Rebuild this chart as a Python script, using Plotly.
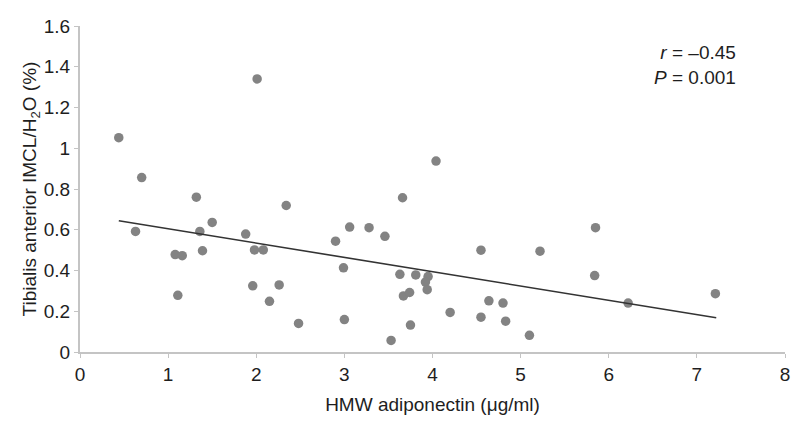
import plotly.graph_objects as go

# HMW adiponectin (ug/ml)
adiponectin = [0.44, 0.70, 0.63, 1.32, 1.50, 1.36, 1.39, 1.08, 1.16, 1.11,
               2.34, 1.88, 1.98, 2.08, 1.96, 2.26, 2.15, 2.48, 2.90, 2.01,
               2.99, 3.00, 3.06, 3.28, 3.46, 3.66, 4.04, 3.63, 3.81, 3.95,
               3.92, 3.94, 3.67, 3.74, 3.75, 3.53, 4.20, 4.55, 4.55, 4.64,
               4.80, 4.83, 5.10, 5.22, 5.85, 5.84, 6.22, 7.21]
# Tibialis anterior IMCL/H2O (%)
imcl = [1.052, 0.856, 0.592, 0.760, 0.636, 0.592, 0.497, 0.478, 0.473, 0.278,
        0.719, 0.579, 0.501, 0.501, 0.325, 0.329, 0.249, 0.140, 0.544, 1.340,
        0.413, 0.159, 0.613, 0.610, 0.568, 0.757, 0.937, 0.381, 0.378, 0.370,
        0.343, 0.306, 0.275, 0.292, 0.132, 0.057, 0.194, 0.500, 0.171, 0.251,
        0.240, 0.151, 0.082, 0.495, 0.610, 0.375, 0.240, 0.286]

# Regression line end points
fit_x = [0.44, 7.22]
fit_y = [0.644, 0.168]

x_ticks = [0, 1, 2, 3, 4, 5, 6, 7, 8]
y_ticks = [0, 0.2, 0.4, 0.6, 0.8, 1.0, 1.2, 1.4, 1.6]
y_tick_text = ["0", "0.2", "0.4", "0.6", "0.8", "1", "1.2", "1.4", "1.6"]

font_family = "Liberation Sans, Arial, Helvetica, sans-serif"
txt_color = "#1e1e1e"
fs = 19

fig = go.Figure()
fig.add_trace(go.Scatter(
    x=adiponectin, y=imcl, mode="markers",
    marker=dict(size=9.5, color="#838383", line=dict(width=0)),
    showlegend=False, hoverinfo="x+y"))
fig.add_trace(go.Scatter(
    x=fit_x, y=fit_y, mode="lines",
    line=dict(color="#333333", width=1.6),
    showlegend=False, hoverinfo="skip"))

fig.add_annotation(
    x=7.47, y=1.533, xref="x", yref="y",
    text="<i>r</i> = \u20130.45<br><i>P</i> = 0.001",
    showarrow=False, xanchor="right", yanchor="top", align="right",
    font=dict(family=font_family, size=fs, color=txt_color))

axis_common = dict(
    showgrid=False, zeroline=False,
    showline=True, linecolor="#c4c4c4", linewidth=2,
    ticks="outside", ticklen=4, tickcolor="#c4c4c4", tickwidth=1,
    tickfont=dict(family=font_family, size=fs, color=txt_color),
    ticklabeloverflow="allow",
)

fig.update_xaxes(
    range=[0, 8], tickvals=x_ticks,
    title=dict(text="HMW adiponectin (\u03bcg/ml)",
               font=dict(family=font_family, size=fs, color=txt_color),
               standoff=14),
    **axis_common)
fig.update_yaxes(
    range=[0, 1.6], tickvals=y_ticks, ticktext=y_tick_text,
    title=dict(text="Tibialis anterior IMCL/H<sub>2</sub>O (%)",
               font=dict(family=font_family, size=fs, color=txt_color),
               standoff=2),
    **axis_common)

# The page body adds an 8 px margin, so the figure is 8 px smaller each way
fig.update_layout(
    width=792, height=419,
    margin=dict(l=72, r=15, t=8, b=75),
    paper_bgcolor="white", plot_bgcolor="white",
    font=dict(family=font_family),
)

fig.write_html("out.html")
